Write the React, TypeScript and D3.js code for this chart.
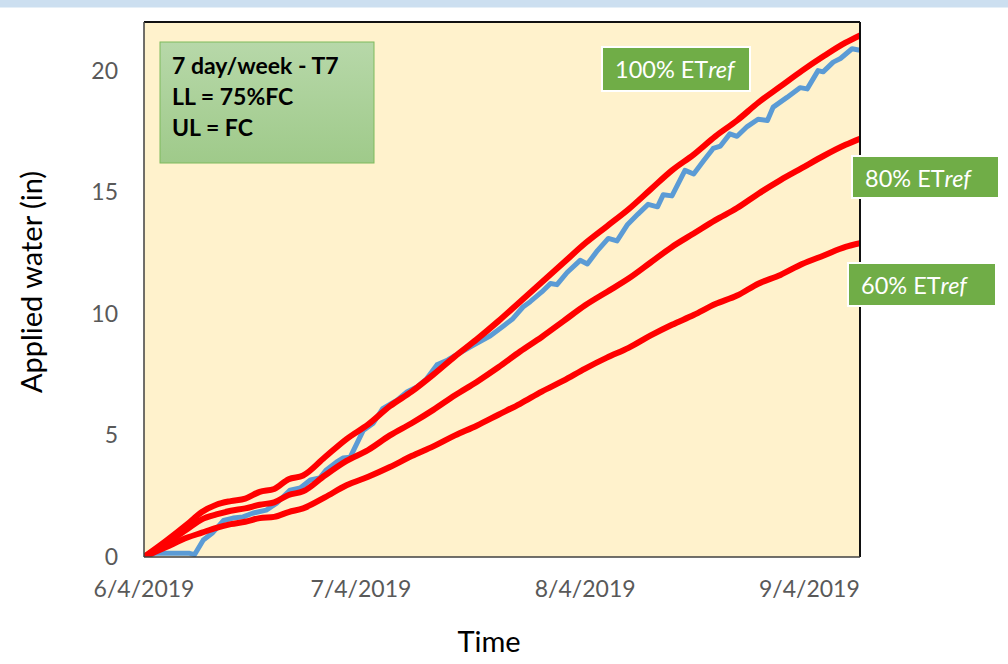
import React from "react";
import * as d3 from "d3";

// ---- Data (days after 6/4/2019, cumulative applied water in inches) ----
const START_DATE = new Date(2019, 5, 4);
const END_DAY = 99;

const tickLabels = ["6/4/2019", "7/4/2019", "8/4/2019", "9/4/2019"];
const tickDates = [new Date(2019, 5, 4), new Date(2019, 6, 4), new Date(2019, 7, 4), new Date(2019, 8, 4)];
const yTicks = [0, 5, 10, 15, 20];

const refDays = [0, 3, 6, 8, 10, 12, 14, 16, 18, 20, 22, 25, 28, 31, 34, 37, 40, 43, 46, 49, 52, 55, 58, 61, 64, 67, 70, 73, 76, 79, 82, 85, 88, 91, 94, 97, 99];
const et100 = [0, 0.65, 1.35, 1.85, 2.15, 2.3, 2.4, 2.68, 2.8, 3.2, 3.35, 4.1, 4.85, 5.45, 6.2, 6.8, 7.5, 8.25, 8.95, 9.7, 10.5, 11.3, 12.1, 12.9, 13.6, 14.3, 15.1, 15.9, 16.55, 17.3, 17.95, 18.7, 19.35, 20.0, 20.6, 21.15, 21.45];
const et80 = [0, 0.55, 1.15, 1.55, 1.75, 1.9, 2.0, 2.15, 2.25, 2.55, 2.7, 3.35, 3.95, 4.4, 5.0, 5.5, 6.05, 6.65, 7.2, 7.8, 8.45, 9.05, 9.7, 10.35, 10.9, 11.45, 12.1, 12.75, 13.3, 13.85, 14.35, 14.95, 15.5, 16.0, 16.5, 16.95, 17.2];
const et60 = [0, 0.4, 0.8, 1.0, 1.2, 1.35, 1.45, 1.6, 1.65, 1.85, 2.0, 2.45, 2.95, 3.3, 3.7, 4.15, 4.55, 5.0, 5.4, 5.85, 6.3, 6.8, 7.25, 7.75, 8.2, 8.6, 9.1, 9.55, 9.95, 10.4, 10.75, 11.25, 11.6, 12.05, 12.4, 12.75, 12.9];

const appliedDays = [0, 1.5, 4, 6.3, 7, 8.2, 9.5, 11, 12.3, 13.7, 15, 16.9, 18.3, 20.2, 21.6, 23, 24.3, 25.2, 26.6, 27.5, 28.5, 30.3, 31.7, 33, 35, 36.4, 37.8, 39, 40.5, 42, 43.7, 45.5, 47.9, 49.7, 51, 52.4, 53.4, 55, 56.2, 57.1, 58.5, 60.3, 61.3, 62.7, 64.2, 65.4, 66.8, 68.3, 69.7, 71, 71.8, 73, 74.8, 76, 77.4, 78.7, 79.7, 81, 82, 83.4, 84.9, 86.2, 87, 88.9, 90.7, 91.7, 93.2, 93.9, 95.3, 96.3, 97.9, 98.8];
const applied = [0, 0.15, 0.15, 0.15, 0.1, 0.7, 1.0, 1.5, 1.6, 1.65, 1.8, 1.93, 2.2, 2.75, 2.84, 3.17, 3.25, 3.58, 3.9, 4.07, 4.1, 5.2, 5.5, 6.1, 6.45, 6.8, 7.0, 7.3, 7.9, 8.1, 8.4, 8.7, 9.1, 9.5, 9.8, 10.28, 10.5, 10.9, 11.25, 11.2, 11.7, 12.2, 12.05, 12.6, 13.1, 13.0, 13.65, 14.1, 14.5, 14.4, 14.9, 14.85, 15.9, 15.75, 16.3, 16.8, 16.9, 17.4, 17.3, 17.7, 18.0, 17.95, 18.5, 18.9, 19.3, 19.25, 20.0, 19.95, 20.35, 20.5, 20.9, 20.85];

const infoLines = ["7 day/week - T7", "LL = 75%FC", "UL = FC"];
const seriesLabels = ["100%", "80%", "60%"];

// ---- Layout ----
const W = 1008, H = 664;
const M = { left: 144, right: 860, top: 22, bottom: 557 };
const FONT = "Lato, 'Open Sans', sans-serif";

const dayToDate = (d: number) => new Date(START_DATE.getTime() + d * 864e5);

export default function App() {
  const x = d3.scaleTime().domain([START_DATE, dayToDate(END_DAY)]).range([M.left, M.right]);
  const y = d3.scaleLinear().domain([0, 22]).range([M.bottom, M.top]);

  const redLine = d3
    .line<[number, number]>()
    .x((p) => x(dayToDate(p[0])))
    .y((p) => y(p[1]))
    .curve(d3.curveMonotoneX);
  const blueLine = d3
    .line<[number, number]>()
    .x((p) => x(dayToDate(p[0])))
    .y((p) => y(p[1]))
    .curve(d3.curveLinear);

  const zip = (a: number[], b: number[]) => a.map((d, i) => [d, b[i]] as [number, number]);
  const reds = [et100, et80, et60].map((s) => redLine(zip(refDays, s)) || "");
  const bluePath = blueLine(zip(appliedDays, applied)) || "";

  const labelBoxes = [
    { x: 602, y: 47, w: 148, h: 44 },
    { x: 852, y: 156, w: 147, h: 42 },
    { x: 848, y: 263, w: 148, h: 43 },
  ];

  return (
    <svg width={W} height={H} style={{ position: "absolute", left: 0, top: 0, background: "#fff" }} fontFamily={FONT}>
      <defs>
        <linearGradient id="boxGrad" x1="0" y1="0" x2="0" y2="1">
          <stop offset="0%" stopColor="#B7D8A9" />
          <stop offset="100%" stopColor="#9FCA8A" />
        </linearGradient>
        <clipPath id="plotClip">
          <rect x={M.left} y={M.top} width={M.right - M.left} height={M.bottom - M.top} />
        </clipPath>
      </defs>
      <rect x={0} y={0} width={W} height={7.5} fill="#CCDFF0" />

      {/* plot area */}
      <rect x={M.left} y={M.top} width={M.right - M.left} height={M.bottom - M.top} fill="#FFF2CC" />

      <g clipPath="url(#plotClip)">
        <path d={bluePath} fill="none" stroke="#5B9BD5" strokeWidth={5} strokeLinejoin="round" strokeLinecap="round" />
        {reds.map((d, i) => (
          <path key={i} d={d} fill="none" stroke="#FF0000" strokeWidth={6} strokeLinejoin="round" strokeLinecap="round" />
        ))}
      </g>

      {/* frame */}
      <line x1={M.left} y1={M.top} x2={M.right} y2={M.top} stroke="#111" strokeWidth={2} />
      <line x1={M.right} y1={M.top} x2={M.right} y2={M.bottom} stroke="#111" strokeWidth={2} />
      <line x1={M.left} y1={M.top} x2={M.left} y2={M.bottom} stroke="#404040" strokeWidth={1.5} />
      <line x1={M.left} y1={M.bottom} x2={M.right} y2={M.bottom} stroke="#404040" strokeWidth={1.5} />

      {/* y ticks */}
      {yTicks.map((t) => (
        <text key={t} x={118} y={y(t) + 8} textAnchor="end" fontSize={23} fill="#595959">
          {t}
        </text>
      ))}
      {/* x ticks */}
      {tickDates.map((d, i) => (
        <text key={i} x={x(d)} y={597} textAnchor="middle" fontSize={23} fill="#595959">
          {tickLabels[i]}
        </text>
      ))}

      {/* axis titles */}
      <text transform={`translate(42,282) rotate(-90)`} textAnchor="middle" fontSize={29} fill="#000">
        Applied water (in)
      </text>
      <text x={489} y={652} textAnchor="middle" fontSize={29} fill="#000">
        Time
      </text>

      {/* info box */}
      <rect x={160} y={42} width={214} height={121} fill="url(#boxGrad)" stroke="#7FBA5C" strokeWidth={1} />
      {infoLines.map((t, i) => (
        <text key={i} x={172} y={74 + i * 31} fontSize={23} fontWeight="bold" fill="#000">
          {t}
        </text>
      ))}

      {/* series labels */}
      {labelBoxes.map((b, i) => (
        <g key={i}>
          <rect x={b.x} y={b.y} width={b.w} height={b.h} fill="#70AD47" stroke="#fff" strokeWidth={2} />
          <text x={b.x + 13} y={b.y + 31} fontSize={23.5} fill="#fff">
            {seriesLabels[i]} ET<tspan fontStyle="italic">ref</tspan>
          </text>
        </g>
      ))}
    </svg>
  );
}
